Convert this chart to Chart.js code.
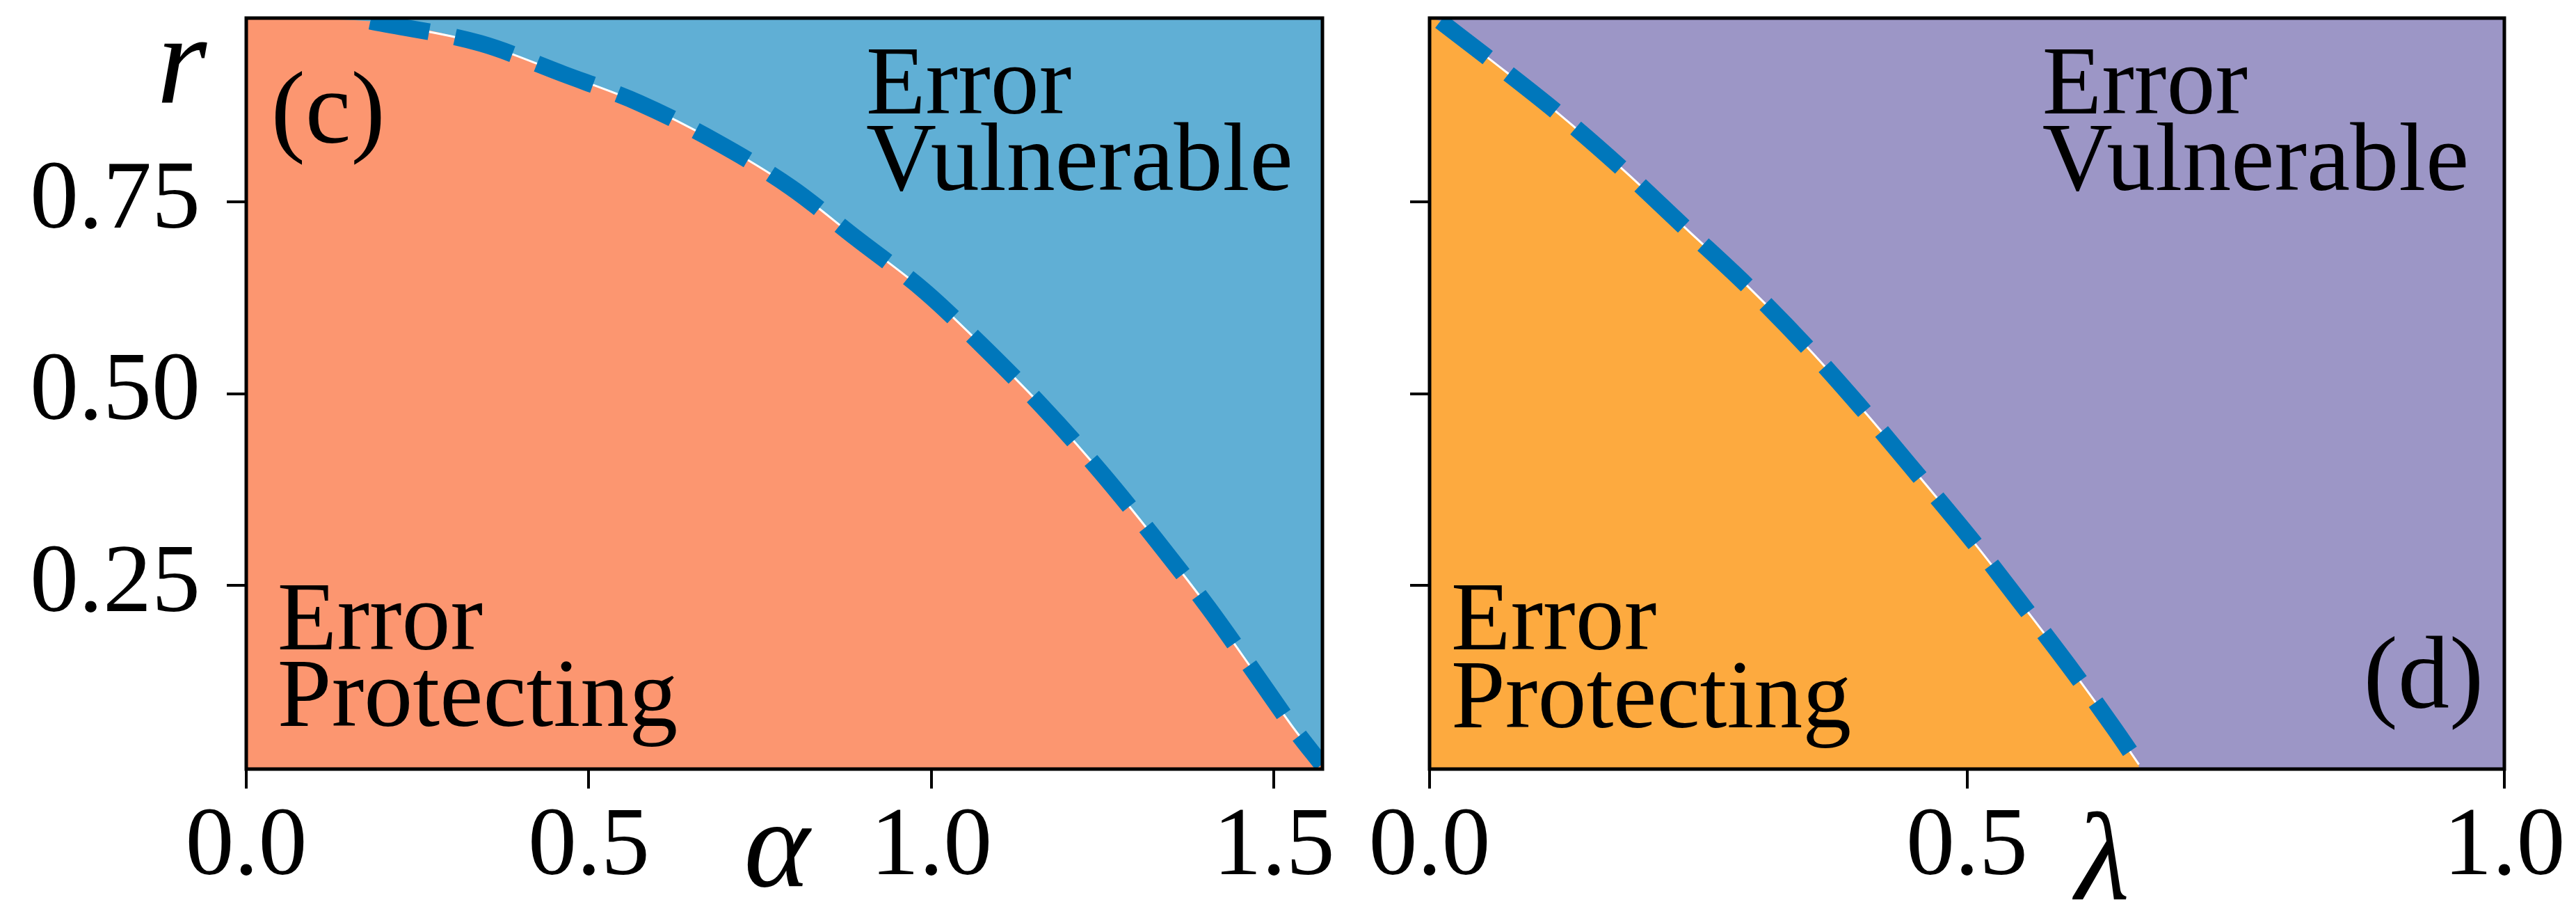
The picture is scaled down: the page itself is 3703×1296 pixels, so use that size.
<!DOCTYPE html>
<html>
<head>
<meta charset="utf-8">
<script src="https://cdn.jsdelivr.net/npm/chart.js@4.4.0/dist/chart.umd.min.js"></script>
<style>
  html, body { margin: 0; padding: 0; background: #fff; }
  body { width: 3703px; height: 1296px; position: relative; overflow: hidden; }
  canvas { position: absolute; top: 0; }
</style>
</head>
<body>
<canvas id="panelC" width="1960" height="1296" style="left:0px"></canvas>
<canvas id="panelD" width="1793" height="1296" style="left:1910px"></canvas>
<script>
// phase boundary (c): r as a function of alpha
const alphaVals = [0.181, 0.342, 0.463, 0.574, 0.685, 0.795, 0.890, 0.991, 1.076, 1.162, 1.247, 1.328, 1.404, 1.474, 1.529, 1.570];
const rAlpha    = [0.986, 0.957, 0.917, 0.879, 0.829, 0.769, 0.703, 0.633, 0.561, 0.483, 0.398, 0.309, 0.221, 0.133, 0.063, 0.016];

// phase boundary (d): r as a function of lambda
const lambdaVals = [0.010, 0.060, 0.122, 0.181, 0.238, 0.296, 0.351, 0.405, 0.456, 0.508, 0.555, 0.601, 0.637, 0.660];
const rLambda    = [0.986, 0.932, 0.863, 0.791, 0.716, 0.640, 0.561, 0.476, 0.391, 0.303, 0.218, 0.133, 0.063, 0.016];

const rTicks = [0.25, 0.50, 0.75];
const alphaTicks = [0.0, 0.5, 1.0, 1.5];
const lambdaTicks = [0.0, 0.5, 1.0];

const rMin = 0.01, rMax = 0.99;
const alphaMax = Math.PI / 2, lambdaMax = 1.0;

const serif = '"Liberation Serif", "DejaVu Serif", serif';
const tickFont = { family: serif, size: 140, lineHeight: 1 };

// paints the phase background, the frame and the text labels
const framePlugin = {
  id: 'frame',
  beforeDraw(chart, args, opts) {
    const { ctx, chartArea: a } = chart;
    ctx.save();
    ctx.fillStyle = opts.upper;
    ctx.fillRect(a.left, a.top, a.right - a.left, a.bottom - a.top);
    ctx.restore();
  },
  afterDraw(chart, args, opts) {
    const { ctx, chartArea: a } = chart;
    ctx.save();
    ctx.lineWidth = 5;
    ctx.strokeStyle = '#000';
    ctx.strokeRect(a.left, a.top, a.right - a.left, a.bottom - a.top);
    ctx.fillStyle = '#000';
    ctx.textBaseline = 'alphabetic';
    (opts.texts || []).forEach(t => {
      ctx.font = t.font || ('140px ' + serif);
      ctx.textAlign = t.align || 'left';
      const x = a.left + t.fx * (a.right - a.left);
      const y = a.top + t.fy * (a.bottom - a.top);
      ctx.fillText(t.text, x, y);
    });
    ctx.restore();
  }
};

function toPoints(xs, ys) {
  return xs.map((x, i) => ({ x: x, y: ys[i] }));
}

function makePanel(id, p) {
  const curve = toPoints(p.xs, p.ys);
  return new Chart(document.getElementById(id), {
    type: 'line',
    data: {
      datasets: [
        { data: curve, borderColor: '#0077BB', borderWidth: 24, borderDash: [86, 38],
          borderCapStyle: 'butt', fill: false, order: 0 },
        { data: curve, borderColor: '#ffffff', borderWidth: 3, fill: false, order: 1 },
        { data: [{ x: 0, y: rMax }].concat(curve), borderWidth: 0, borderColor: 'rgba(0,0,0,0)',
          backgroundColor: p.lower, fill: 'start', order: 2 }
      ]
    },
    options: {
      responsive: false,
      animation: false,
      events: [],
      layout: { padding: { left: 0, top: 26, right: p.padRight, bottom: 0 } },
      elements: {
        point: { radius: 0 },
        line: { cubicInterpolationMode: 'monotone' }
      },
      datasets: { line: { clip: 0 } },
      plugins: {
        legend: { display: false },
        tooltip: { enabled: false },
        frame: { upper: p.upper, texts: p.texts }
      },
      scales: {
        x: {
          type: 'linear', min: 0, max: p.xMax,
          afterBuildTicks: s => { s.ticks = p.xTicks.map(v => ({ value: v })); },
          afterFit: s => { s.height = 191; s.paddingLeft = 0; s.paddingRight = 0; },
          border: { display: false },
          grid: { display: true, drawOnChartArea: false, drawTicks: true, tickLength: 28, lineWidth: 4, color: '#000' },
          ticks: { font: tickFont, color: '#000', padding: 16, maxRotation: 0, autoSkip: false,
                   callback: v => v.toFixed(1) }
        },
        y: {
          type: 'linear', min: rMin, max: rMax,
          afterBuildTicks: s => { s.ticks = rTicks.map(v => ({ value: v })); },
          afterFit: s => { s.width = p.yWidth; s.paddingTop = 0; s.paddingBottom = 0; },
          border: { display: false },
          grid: { display: true, drawOnChartArea: false, drawTicks: true, tickLength: 28, lineWidth: 4, color: '#000' },
          ticks: { font: tickFont, color: '#000', padding: 38, autoSkip: false,
                   callback: v => p.yLabels ? v.toFixed(2) : '' }
        }
      }
    },
    plugins: [framePlugin]
  });
}

makePanel('panelC', {
  xs: alphaVals, ys: rAlpha, xMax: alphaMax, xTicks: alphaTicks,
  yWidth: 354, padRight: 59, yLabels: true,
  upper: '#60AFD5', lower: '#FC9670',
  texts: [
    { text: '(c)', fx: 0.023, fy: 0.166, font: '148px ' + serif },
    { text: 'Error', fx: 0.576, fy: 0.127 },
    { text: 'Vulnerable', fx: 0.576, fy: 0.229 },
    { text: 'Error', fx: 0.029, fy: 0.841 },
    { text: 'Protecting', fx: 0.029, fy: 0.943 },
    { text: 'r', fx: -0.060, fy: 0.113, align: 'center', font: 'italic 185px ' + serif },
    { text: 'α', fx: 0.493, fy: 1.156, align: 'center', font: 'italic 180px ' + serif }
  ]
});

makePanel('panelD', {
  xs: lambdaVals, ys: rLambda, xMax: lambdaMax, xTicks: lambdaTicks,
  yWidth: 145, padRight: 103, yLabels: false,
  upper: '#9C96C6', lower: '#FDAA3F',
  texts: [
    { text: 'Error', fx: 0.570, fy: 0.127 },
    { text: 'Vulnerable', fx: 0.570, fy: 0.229 },
    { text: 'Error', fx: 0.020, fy: 0.841 },
    { text: 'Protecting', fx: 0.020, fy: 0.944 },
    { text: '(d)', fx: 0.869, fy: 0.918, font: '148px ' + serif },
    { text: 'λ', fx: 0.626, fy: 1.173, align: 'center', font: 'italic 180px ' + serif }
  ]
});
</script>
</body>
</html>
